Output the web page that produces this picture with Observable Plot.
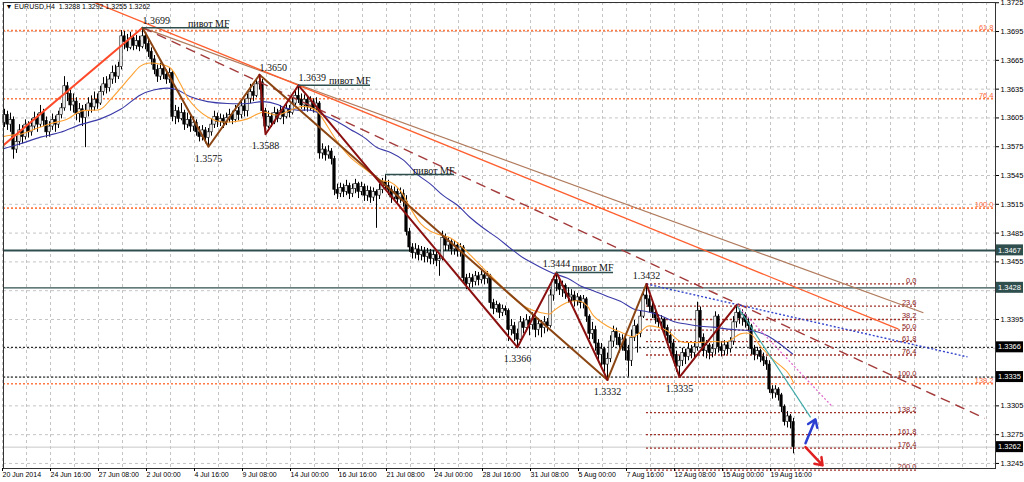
<!DOCTYPE html>
<html><head><meta charset="utf-8">
<script src="https://cdn.jsdelivr.net/npm/d3@7"></script>
<script src="https://cdn.jsdelivr.net/npm/@observablehq/plot@0.6"></script>
<style>body{margin:0;background:#fff}</style>
</head><body><div id="chart"></div>
<script>
// ---------- DATA ----------
const symbol = "EURUSD,H4";
const firstOpen = 1.3600;
const closes = [
1.3608,1.3598,1.3603,1.3572,1.3580,1.3592,1.3585,1.3598,1.3590,1.3596,
1.3605,1.3598,1.3610,1.3602,1.3590,1.3596,1.3603,1.3598,1.3608,1.3615,
1.3638,1.3630,1.3618,1.3622,1.3609,1.3614,1.3605,1.3612,1.3620,1.3616,
1.3624,1.3620,1.3632,1.3640,1.3636,1.3645,1.3652,1.3648,1.3658,1.3690,
1.3684,1.3678,1.3688,1.3680,1.3685,1.3679,1.3690,1.3682,1.3674,1.3666,
1.3655,1.3648,1.3656,1.3650,1.3645,1.3652,1.3606,1.3612,1.3604,1.3610,
1.3598,1.3603,1.3596,1.3600,1.3590,1.3585,1.3592,1.3584,1.3590,1.3598,
1.3606,1.3601,1.3604,1.3600,1.3605,1.3608,1.3603,1.3612,1.3608,1.3617,
1.3612,1.3625,1.3632,1.3628,1.3640,1.3642,1.3612,1.3596,1.3606,1.3600,
1.3610,1.3604,1.3612,1.3606,1.3614,1.3610,1.3620,1.3628,1.3624,1.3618,
1.3624,1.3616,1.3622,1.3614,1.3620,1.3568,1.3572,1.3566,1.3570,1.3562,
1.3530,1.3526,1.3532,1.3528,1.3534,1.3526,1.3531,1.3536,1.3528,1.3533,
1.3524,1.3529,1.3522,1.3528,1.3524,1.3530,1.3538,1.3534,1.3530,1.3522,
1.3528,1.3520,1.3526,1.3518,1.3486,1.3470,1.3464,1.3468,1.3462,1.3466,
1.3460,1.3464,1.3458,1.3462,1.3456,1.3458,1.3480,1.3472,1.3476,1.3468,
1.3472,1.3466,1.3470,1.3438,1.3432,1.3438,1.3434,1.3440,1.3436,1.3441,
1.3437,1.3440,1.3412,1.3406,1.3410,1.3402,1.3406,1.3404,1.3384,1.3388,
1.3380,1.3374,1.3392,1.3386,1.3394,1.3389,1.3396,1.3384,1.3390,1.3386,
1.3392,1.3388,1.3420,1.3436,1.3432,1.3426,1.3430,1.3422,1.3418,1.3420,
1.3414,1.3418,1.3412,1.3416,1.3398,1.3380,1.3384,1.3370,1.3358,1.3364,
1.3348,1.3354,1.3372,1.3382,1.3376,1.3368,1.3374,1.3362,1.3352,1.3376,
1.3388,1.3380,1.3398,1.3420,1.3416,1.3408,1.3402,1.3396,1.3392,1.3395,
1.3386,1.3378,1.3370,1.3358,1.3346,1.3352,1.3360,1.3356,1.3364,1.3360,
1.3366,1.3404,1.3376,1.3362,1.3368,1.3360,1.3364,1.3398,1.3366,1.3362,
1.3368,1.3364,1.3372,1.3392,1.3402,1.3396,1.3400,1.3392,1.3388,1.3364,
1.3358,1.3362,1.3356,1.3352,1.3348,1.3322,1.3318,1.3322,1.3316,1.3304,
1.3288,1.3294,1.3288,1.3262];
const highs = [
1.3614,1.3612,1.3610,1.3606,1.3586,1.3598,1.3597,1.3603,1.3601,1.3604,
1.3611,1.3609,1.3618,1.3614,1.3606,1.3601,1.3609,1.3607,1.3612,1.3620,
1.3648,1.3642,1.3634,1.3630,1.3626,1.3620,1.3618,1.3619,1.3626,1.3628,
1.3632,1.3630,1.3638,1.3647,1.3648,1.3650,1.3659,1.3660,1.3663,1.3696,
1.3695,1.3692,1.3694,1.3690,1.3691,1.3690,1.3699,1.3694,1.3688,1.3678,
1.3670,1.3660,1.3662,1.3660,1.3655,1.3657,1.3654,1.3618,1.3616,1.3620,
1.3613,1.3610,1.3607,1.3606,1.3603,1.3596,1.3597,1.3595,1.3594,1.3604,
1.3612,1.3610,1.3609,1.3608,1.3610,1.3614,1.3612,1.3618,1.3616,1.3622,
1.3624,1.3630,1.3640,1.3638,1.3646,1.3650,1.3645,1.3615,1.3612,1.3610,
1.3616,1.3614,1.3618,1.3615,1.3620,1.3618,1.3626,1.3634,1.3639,1.3630,
1.3629,1.3628,1.3627,1.3625,1.3626,1.3622,1.3578,1.3575,1.3576,1.3573,
1.3565,1.3536,1.3537,1.3536,1.3540,1.3537,1.3536,1.3541,1.3538,1.3538,
1.3536,1.3534,1.3533,1.3532,1.3530,1.3536,1.3542,1.3546,1.3540,1.3534,
1.3533,1.3531,1.3532,1.3530,1.3524,1.3490,1.3474,1.3474,1.3472,1.3471,
1.3470,1.3469,1.3468,1.3467,1.3466,1.3464,1.3487,1.3484,1.3480,1.3478,
1.3477,1.3475,1.3474,1.3472,1.3442,1.3443,1.3442,1.3445,1.3444,1.3446,
1.3444,1.3445,1.3442,1.3416,1.3414,1.3412,1.3410,1.3409,1.3406,1.3395,
1.3392,1.3385,1.3398,1.3396,1.3400,1.3398,1.3402,1.3399,1.3396,1.3394,
1.3398,1.3396,1.3426,1.3440,1.3444,1.3438,1.3435,1.3432,1.3428,1.3426,
1.3424,1.3422,1.3420,1.3420,1.3418,1.3400,1.3392,1.3388,1.3374,1.3370,
1.3366,1.3360,1.3378,1.3388,1.3386,1.3380,1.3379,1.3376,1.3368,1.3384,
1.3394,1.3390,1.3404,1.3426,1.3432,1.3420,1.3412,1.3406,1.3400,1.3399,
1.3397,1.3389,1.3382,1.3374,1.3362,1.3357,1.3365,1.3364,1.3370,1.3368,
1.3371,1.3413,1.3408,1.3380,1.3373,1.3370,1.3369,1.3403,1.3400,1.3372,
1.3373,1.3371,1.3376,1.3398,1.3410,1.3406,1.3405,1.3402,1.3396,1.3390,
1.3368,1.3366,1.3364,1.3360,1.3356,1.3352,1.3326,1.3326,1.3324,1.3318,
1.3306,1.3299,1.3296,1.3292];
const lows = [
1.3595,1.3592,1.3590,1.3562,1.3568,1.3576,1.3578,1.3582,1.3584,1.3586,
1.3592,1.3590,1.3595,1.3596,1.3584,1.3585,1.3592,1.3590,1.3594,1.3604,
1.3612,1.3622,1.3612,1.3610,1.3602,1.3600,1.3596,1.3574,1.3606,1.3610,
1.3612,1.3614,1.3618,1.3628,1.3630,1.3632,1.3640,1.3641,1.3645,1.3655,
1.3676,1.3674,1.3676,1.3675,1.3676,1.3674,1.3677,1.3676,1.3668,1.3660,
1.3650,1.3642,1.3644,1.3645,1.3640,1.3641,1.3601,1.3598,1.3600,1.3602,
1.3592,1.3594,1.3590,1.3591,1.3586,1.3580,1.3581,1.3578,1.3575,1.3586,
1.3594,1.3595,1.3596,1.3594,1.3597,1.3600,1.3598,1.3600,1.3602,1.3604,
1.3606,1.3606,1.3620,1.3622,1.3626,1.3634,1.3606,1.3588,1.3594,1.3595,
1.3598,1.3600,1.3603,1.3598,1.3604,1.3605,1.3608,1.3618,1.3620,1.3614,
1.3612,1.3611,1.3612,1.3610,1.3611,1.3562,1.3562,1.3560,1.3562,1.3556,
1.3524,1.3520,1.3522,1.3522,1.3524,1.3520,1.3522,1.3526,1.3521,1.3524,
1.3518,1.3518,1.3516,1.3518,1.3490,1.3520,1.3526,1.3530,1.3524,1.3516,
1.3518,1.3514,1.3516,1.3512,1.3482,1.3465,1.3458,1.3458,1.3456,1.3456,
1.3454,1.3454,1.3452,1.3452,1.3450,1.3440,1.3456,1.3466,1.3466,1.3462,
1.3462,1.3460,1.3460,1.3434,1.3426,1.3428,1.3428,1.3430,1.3430,1.3432,
1.3431,1.3432,1.3406,1.3400,1.3402,1.3396,1.3398,1.3399,1.3372,1.3378,
1.3372,1.3366,1.3370,1.3380,1.3382,1.3378,1.3384,1.3376,1.3378,1.3376,
1.3380,1.3382,1.3386,1.3414,1.3424,1.3420,1.3418,1.3416,1.3412,1.3412,
1.3408,1.3409,1.3406,1.3406,1.3392,1.3374,1.3374,1.3362,1.3350,1.3346,
1.3340,1.3332,1.3350,1.3366,1.3368,1.3360,1.3362,1.3352,1.3335,1.3346,
1.3372,1.3360,1.3376,1.3396,1.3410,1.3402,1.3396,1.3390,1.3386,1.3384,
1.3380,1.3372,1.3364,1.3350,1.3340,1.3335,1.3346,1.3348,1.3352,1.3354,
1.3355,1.3362,1.3370,1.3356,1.3354,1.3353,1.3355,1.3358,1.3360,1.3356,
1.3357,1.3358,1.3360,1.3368,1.3386,1.3390,1.3388,1.3386,1.3382,1.3358,
1.3352,1.3353,1.3350,1.3346,1.3342,1.3318,1.3312,1.3313,1.3310,1.3298,
1.3284,1.3282,1.3281,1.3255];

// moving averages: [bar index, price]
const orangeMA = [[-1.3,1.3585],[2,1.3587],[5.3,1.3588],[9.7,1.3593],[15.3,1.3599],[21,1.3604],[25.3,1.3612],[28.7,1.3613],[32,1.3614],[35.3,1.3624],[38.7,1.3636],[42,1.3648],[45.3,1.3659],[47.7,1.3662],[52,1.3661],[55.3,1.3657],[58.7,1.3640],[61,1.3626],[64.3,1.3614],[67.7,1.3606],[72,1.3601],[76.3,1.3601],[81,1.3604],[84.3,1.3609],[86.3,1.3611],[91,1.3608],[95.3,1.3613],[99.7,1.3617],[104.3,1.3612],[106.3,1.3603],[111,1.3580],[115.3,1.3564],[121,1.3550],[125.3,1.3540],[128.7,1.3538],[132,1.3529],[135.3,1.3511],[138.7,1.3495],[142,1.3487],[145.3,1.3483],[148.7,1.3480],[152,1.3472],[155.3,1.3462],[159.7,1.3448],[164.3,1.3434],[168.7,1.3420],[173,1.3409],[177.7,1.3403],[182,1.3401],[183,1.3404],[187.7,1.3413],[192,1.3414],[194.3,1.3409],[196.3,1.3399],[201,1.3388],[205.3,1.3382],[209.7,1.3377],[212,1.3382],[214.3,1.3388],[217.7,1.3387],[221,1.3383],[225.3,1.3372],[228.7,1.3371],[232,1.3371],[236.3,1.3372],[241,1.3372],[245.3,1.3380],[248.7,1.3380],[252,1.3367],[256.3,1.3353],[261,1.3340],[263,1.3329]];
const blueMA = [[-1.3,1.3572],[5.3,1.3578],[12,1.3585],[18.7,1.3590],[25.3,1.3598],[32,1.3604],[38.7,1.3614],[45.3,1.3629],[49.7,1.3634],[54.3,1.3636],[57.7,1.3634],[62,1.3627],[67.7,1.3622],[74.3,1.3620],[81,1.3620],[86.3,1.3622],[91,1.3619],[93,1.3616],[97.7,1.3613],[102,1.3613],[106.3,1.3608],[111,1.3601],[115.3,1.3593],[119.7,1.3585],[124.3,1.3574],[128.7,1.3569],[133,1.3561],[137.7,1.3546],[142,1.3536],[146.3,1.3524],[151,1.3514],[155.3,1.3501],[159.7,1.3490],[164.3,1.3480],[168.7,1.3469],[173,1.3459],[177.7,1.3451],[183,1.3443],[187.7,1.3438],[192,1.3430],[196.3,1.3425],[201,1.3419],[205.3,1.3414],[209.7,1.3406],[214.3,1.3403],[218.7,1.3399],[223,1.3393],[227.7,1.3390],[232,1.3388],[236.3,1.3387],[241,1.3385],[245.3,1.3384],[249.7,1.3383],[254.3,1.3378],[258.7,1.3369],[262.7,1.3359]];

// zigzags [bar index, price]
const redLeg = [[-1.3,1.3574],[46,1.3699]];
const brownZigzag = [[46,1.3699],[68,1.3575],[85,1.3650],[201,1.3332],[214,1.3432]];
const maroonZigzag = [[85,1.3650],[87,1.3588],[98,1.3639],[171,1.3366],[184,1.3444],[201,1.3332]];
const maroonZigzag2 = [[214,1.3432],[225,1.3335],[244,1.3410]];

// trend lines {i1,p1,i2,p2}
const orangeTrend = {i1:26.3, p1:1.3730, i2:298, p2:1.3385};
const tanTrend = {i1:46, p1:1.3699, i2:306.3, p2:1.3402};
const dashedTrend = {i1:46, p1:1.3699, i2:326.7, p2:1.3292};
const blueDotTrend = {i1:214, p1:1.3432, i2:321, p2:1.3356};
const pinkDotTrend = {i1:244, p1:1.3410, i2:276, p2:1.3304};
const tealTrend = {i1:244, p1:1.3410, i2:268.7, p2:1.3293};
const upArrow = {i1:267, p1:1.3266, i2:270.3, p2:1.3291};
const downArrow = {i1:267, p1:1.3262, i2:272.7, p2:1.3243};

// pivot labels
const mfHighs = [[46,1.3699],[85,1.3650],[98,1.3639]];
const otherHighs = [[184,1.3444],[214,1.3432]];
const pivotLows = [[68,1.3575],[87,1.3588],[171,1.3366],[201,1.3332],[225,1.3335]];
const pivotMF = [{i1:46,i2:75,p:1.3699},{i1:98,i2:122,p:1.3639},{i1:127,i2:150,p:1.3546},{i1:184,i2:203,p:1.3444}];
const pivotText = "пивот MF";

// horizontal levels
const bigFibLevels = ["61.8","76.4","100.0","138.2"];
const bigFibPrices = [1.3696,1.3625,1.3511,1.3328];
const fibLevels = ["0.0","23.6","38.2","50.0","61.8","76.4","100.0","138.2","161.8","176.4","200.0"];
const fibPrices = [1.3432,1.3409,1.3395,1.3384,1.3372,1.3358,1.3335,1.3298,1.3275,1.3261,1.3238];
const fibSpan = [214, 304];
const slateLevels = [1.3467, 1.3428];
const blackLevels = [1.3366, 1.3335];
const bidPrice = 1.3262;

// axes
const yTicks = [1.3725,1.3695,1.3665,1.3635,1.3605,1.3575,1.3545,1.3515,1.3485,1.3455,1.3425,1.3395,1.3365,1.3335,1.3305,1.3275,1.3245];
const yTicksCovered = [1.3425,1.3365,1.3335]; // hidden under the price boxes
const xTickIdx = [0,16,32,48,64,80,96,112,128,144,160,176,192,208,224,240,256];
const xLabels = ["20 Jun 2014","24 Jun 16:00","27 Jun 08:00","2 Jul 00:00","4 Jul 16:00","9 Jul 08:00","14 Jul 00:00","16 Jul 16:00","21 Jul 08:00","24 Jul 00:00","28 Jul 16:00","31 Jul 08:00","5 Aug 00:00","7 Aug 16:00","12 Aug 08:00","15 Aug 00:00","19 Aug 16:00"];

// ---------- BUILD ----------
const bars = closes.map((c, i) => ({i, o: i ? closes[i-1] : firstOpen, c, h: highs[i], l: lows[i]}));
const last = bars[bars.length-1];
const toPts = a => a.map(([i,p]) => ({i, p}));
const labelMap = new Map(xTickIdx.map((d,k) => [d, xLabels[k]]));
const yLabelTicks = yTicks.filter(t => !yTicksCovered.includes(t));
const gridIdx = d3.range(0, 331, 8);
const SANS = "Liberation Sans, Arial, sans-serif";
const SERIF = "Liberation Serif, Times New Roman, serif";

function link(t, opts) {
  return Plot.link([t], {x1:"i1", y1:"p1", x2:"i2", y2:"p2", clip:true, ...opts});
}
function priceBoxes(levels, bg) {
  return (index, scales, values, dim) => {
    const g = d3.create("svg:g");
    const x0 = dim.width - dim.marginRight + 1;
    for (const p of levels) {
      const y = scales.y(p);
      g.append("rect").attr("x", x0).attr("y", y - 5.5).attr("width", 27).attr("height", 11).attr("fill", bg);
      g.append("text").attr("x", x0 + 2).attr("y", y).attr("dy", "0.35em").attr("text-anchor", "start")
        .attr("fill", "#fff").attr("font-size", 7.5).attr("font-family", SANS).text(p.toFixed(4));
    }
    return g.node();
  };
}

const chart = Plot.plot({
  width: 1024, height: 482,
  marginLeft: 3, marginRight: 29, marginTop: 2, marginBottom: 14,
  x: {domain: [-1/3, 330.33], axis: null},
  y: {domain: [1.323974, 1.372526], axis: null},
  style: {fontFamily: SANS, fontSize: "7.5px", background: "#fff", overflow: "visible"},
  marks: [
    Plot.gridY(yTicks, {stroke: "#c4c4c4", strokeOpacity: 1, strokeDasharray: "3,3"}),
    Plot.gridX(gridIdx, {stroke: "#c4c4c4", strokeOpacity: 1, strokeDasharray: "3,3", dx: -2}),
    Plot.ruleY([bidPrice], {stroke: "#c8c8c8"}),
    Plot.ruleY(bigFibPrices, {stroke: "#ff7a45", strokeWidth: 1.6, strokeDasharray: "2,2"}),
    Plot.ruleY(blackLevels, {stroke: "#000", strokeDasharray: "2,2"}),
    Plot.ruleY([slateLevels[0]], {stroke: "#2f4f4f", strokeWidth: 2}),
    Plot.ruleY([slateLevels[1]], {stroke: "#2f4f4f", strokeWidth: 1.2}),
    Plot.ruleY(fibPrices, {x1: fibSpan[0], x2: fibSpan[1], stroke: "#a0302a", strokeWidth: 1.3, strokeDasharray: "2,2"}),
    // candles
    Plot.ruleX(bars, {x: "i", y1: "l", y2: "h", stroke: "#000"}),
    Plot.rect(bars, {x1: d => d.i - 0.4, x2: d => d.i + 0.4, y1: "o", y2: "c",
      fill: d => d.c >= d.o ? "#fff" : "#000", stroke: "#000", strokeWidth: 0.6}),
    // moving averages
    Plot.line(toPts(blueMA), {x: "i", y: "p", stroke: "#3a3aa8", strokeWidth: 1.1, curve: "catmull-rom", clip: true}),
    Plot.line(toPts(orangeMA), {x: "i", y: "p", stroke: "#ffa030", strokeWidth: 1.1, curve: "catmull-rom", clip: true}),
    // long trend lines
    link(tanTrend, {stroke: "#b07a5c", strokeWidth: 1.3}),
    link(orangeTrend, {stroke: "#ff5f2e", strokeWidth: 1.3}),
    link(dashedTrend, {stroke: "#a33a3a", strokeWidth: 1.4, strokeDasharray: "10,6"}),
    link(blueDotTrend, {stroke: "#3344cc", strokeWidth: 1.4, strokeDasharray: "2,2"}),
    link(pinkDotTrend, {stroke: "#e070d0", strokeWidth: 1.3, strokeDasharray: "2,2"}),
    link(tealTrend, {stroke: "#40a8a8", strokeWidth: 1.2}),
    // zigzags
    Plot.line(toPts(redLeg), {x: "i", y: "p", stroke: "#ff4a2a", strokeWidth: 2, clip: true}),
    Plot.line(toPts(brownZigzag), {x: "i", y: "p", stroke: "#8b4513", strokeWidth: 2}),
    Plot.line(toPts(maroonZigzag), {x: "i", y: "p", stroke: "#8b1010", strokeWidth: 2}),
    Plot.line(toPts(maroonZigzag2), {x: "i", y: "p", stroke: "#8b1010", strokeWidth: 2}),
    // pivot MF
    Plot.ruleY(pivotMF, {y: "p", x1: "i1", x2: "i2", stroke: "#2f4f4f", strokeWidth: 1.5}),
    Plot.text(pivotMF, {x: "i2", y: "p", text: () => pivotText, textAnchor: "end", lineAnchor: "bottom", dy: -1,
      fontFamily: SERIF, fontSize: 10, fill: "#111"}),
    // pivot price labels
    Plot.text(toPts(mfHighs), {x: "i", y: "p", text: d => d.p.toFixed(4), textAnchor: "start", lineAnchor: "bottom", dy: -4,
      fontFamily: SERIF, fontSize: 10, fill: "#111"}),
    Plot.text(toPts(otherHighs), {x: "i", y: "p", text: d => d.p.toFixed(4), textAnchor: "middle", lineAnchor: "bottom", dy: -5,
      fontFamily: SERIF, fontSize: 10, fill: "#111"}),
    Plot.text(toPts(pivotLows), {x: "i", y: "p", text: d => d.p.toFixed(4), textAnchor: "middle", lineAnchor: "top", dy: 8,
      fontFamily: SERIF, fontSize: 10, fill: "#111"}),
    // arrows
    Plot.arrow([upArrow], {x1: "i1", y1: "p1", x2: "i2", y2: "p2", stroke: "#2b3fd0", strokeWidth: 2.5, headLength: 7, headAngle: 70}),
    Plot.arrow([downArrow], {x1: "i1", y1: "p1", x2: "i2", y2: "p2", stroke: "#e02020", strokeWidth: 2.5, headLength: 7, headAngle: 70}),
    // fib labels
    Plot.text(bigFibPrices, {y: d => d, text: (d, k) => bigFibLevels[k], frameAnchor: "right", textAnchor: "end",
      lineAnchor: "bottom", dx: -2, dy: -1, fill: "#ff6a3a", fontSize: 7.5}),
    Plot.text(fibPrices, {x: fibSpan[1], y: d => d, text: (d, k) => fibLevels[k], textAnchor: "end",
      lineAnchor: "bottom", dy: -1, fill: "#8b2020", fontSize: 7.5}),
    Plot.frame({stroke: "#333"}),
    // axes
    Plot.axisY(yLabelTicks, {anchor: "right", tickFormat: d => d.toFixed(4), tickSize: 3, tickPadding: 2, fontSize: 7.5, fill: "#000"}),
    Plot.axisX(xTickIdx, {anchor: "bottom", tickFormat: d => labelMap.get(d), textAnchor: "start", tickSize: 3,
      tickPadding: 1, dx: -2, fontSize: 7, fill: "#000"}),
    priceBoxes(slateLevels, "#2f4f4f"),
    priceBoxes(blackLevels, "#000"),
    priceBoxes([bidPrice], "#000"),
    // title
    Plot.text([last], {frameAnchor: "top-left", text: d => `▼ ${symbol}  ${d.o.toFixed(4)} ${d.h.toFixed(4)} ${d.l.toFixed(4)} ${d.c.toFixed(4)}`,
      textAnchor: "start", lineAnchor: "top", dx: 2, dy: 2, fontSize: 7, fill: "#000"})
  ]
});
document.getElementById("chart").append(chart);
</script>
</body></html>
